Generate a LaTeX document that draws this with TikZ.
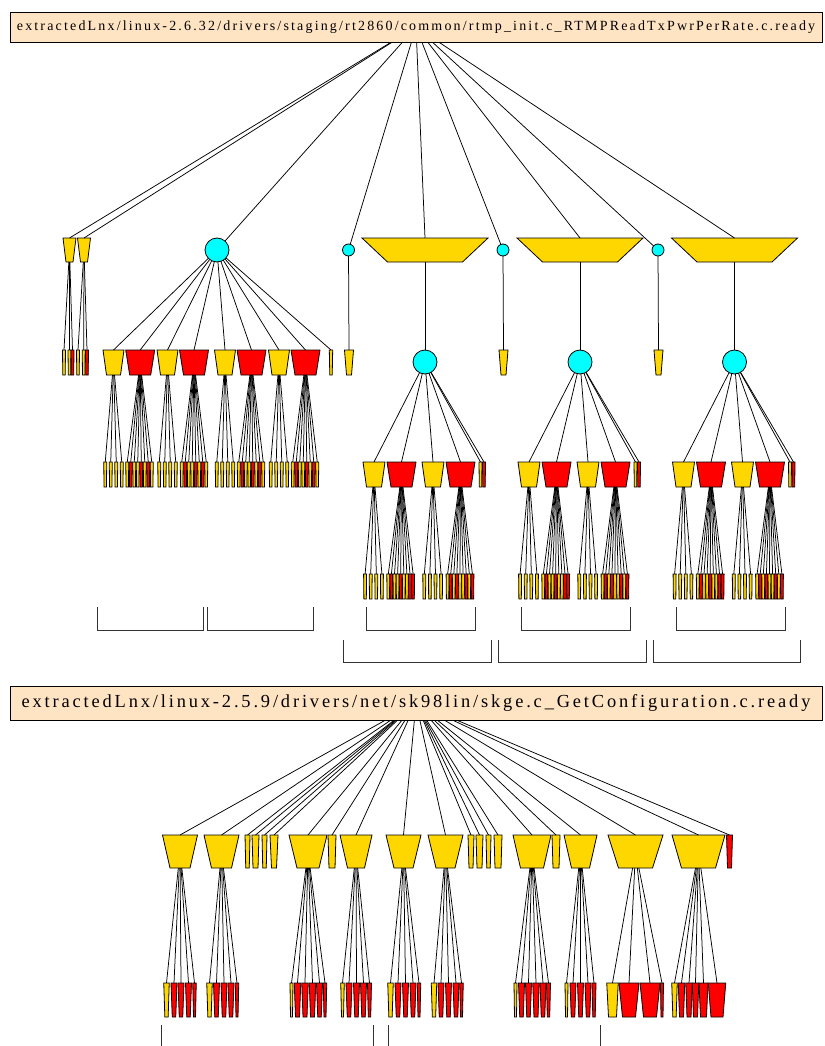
\documentclass[tikz,border=0pt]{standalone}
\usepackage{fontspec}
\setmainfont{Liberation Serif}
\newfontfamily\titlefont[LetterSpace=15.5]{Liberation Serif}
\definecolor{gold}{HTML}{FFD700}
\definecolor{hot}{HTML}{FF0000}
\definecolor{aqua}{HTML}{00FFFF}
\definecolor{peach}{HTML}{FFE4C4}
\tikzset{
  hit/.style={rectangle, draw=none, inner sep=0pt, outer sep=0pt},
  outline/.style={draw=black, line width=0.8pt, line join=miter},
  edge/.style={draw=black, line width=0.75pt},
  ball/.style={circle, draw=black, line width=0.8pt, fill=aqua, inner sep=0pt, outer sep=0pt},
  title/.style={rectangle, draw=black, line width=0.8pt, fill=peach, inner sep=0pt},
  bracket/.style={draw=black!80, line width=0.9pt},
}
% trapezoid: name, centre x, top y, top width, bottom width, height, fill
\newcommand\tzd[7]{%
  \node[hit, minimum width=#4, minimum height=#6] (#1) at (#2,{#3+#6/2}) {};
  \draw[outline, fill=#7] ({#2-#4/2},#3) -- ({#2+#4/2},#3) -- ({#2+#5/2},{#3+#6}) -- ({#2-#5/2},{#3+#6}) -- cycle;
}
% row of thin leaves under a parent: parent, centre x, count, step, top y, colours
\newcommand\fan[6]{%
  \foreach \col [count=\i] in {#6} {
    \pgfmathsetmacro\lx{#2+(\i-1-(#3-1)/2)*#4}
    \tzd{#1-\i}{\lx}{#5}{3}{2.4}{25}{\col}
    \draw[edge] (#1) -- (#1-\i.north);
  }
}
\begin{document}
\begin{tikzpicture}[x=1pt,y=-1pt]
\useasboundingbox (0,0) rectangle (824,1046);

% ---------------- first tree ----------------
\node[title, minimum width=812, minimum height=30] (root) at (416,27)
  {\titlefont\fontsize{14}{16}\selectfont extractedLnx/linux-2.6.32/drivers/staging/rt2860/common/rtmp\_init.c\_RTMPReadTxPwrPerRate.c.ready};

\tzd{a1}{69.5}{238}{13}{7}{24}{gold}
\tzd{a2}{84}{238}{13}{7}{24}{gold}
\node[ball, minimum size=24] (c1) at (217,250) {};
\node[ball, minimum size=12] (c2) at (348.5,250) {};
\tzd{t1}{425}{238}{126}{75}{24}{gold}
\node[ball, minimum size=12] (c3) at (503,250) {};
\tzd{t2}{580}{238}{126}{75}{24}{gold}
\node[ball, minimum size=12] (c4) at (658,250) {};
\tzd{t3}{734.5}{238}{126}{75}{24}{gold}
\foreach \n in {a1,a2,t1,t2,t3} \draw[edge] (root) -- (\n.north);
\foreach \n in {c1,c2,c3,c4} \draw[edge] (root) -- (\n);

% leaves of the two small trapezoids
\foreach \p/\k/\x/\col in {a1/1/64/gold, a1/2/69.5/gold, a1/3/72.5/hot,
                           a2/1/78/gold, a2/2/83.7/gold, a2/3/87/hot} {
  \tzd{\p-\k}{\x}{350}{3}{2.4}{25}{\col}
  \draw[edge] (\p) -- (\p-\k.north);
}

% children of the large circle
\foreach \n/\x/\wt/\wb/\col in {y1/113.5/21/14/gold, r1/140.2/29/21/hot, y2/167.5/21/14/gold,
    r2/194/29/21/hot, y3/225/21/14/gold, r3/251.5/29/21/hot, y4/279/21/14/gold,
    r4/305.5/29/21/hot, s0/331/3.4/2.4/gold} {
  \tzd{\n}{\x}{350}{\wt}{\wb}{25}{\col}
  \draw[edge] (c1) -- (\n.north);
}
\foreach \n/\x in {y1/113.5, y2/167.5, y3/225, y4/279} {
  \fan{\n}{\x}{4}{5.5}{462}{gold,gold,gold,gold}
}
\foreach \n/\x in {r1/139.5, r2/194, r3/251, r4/305} {
  \fan{\n}{\x}{8}{3.5}{462}{gold,hot,gold,gold,hot,gold,hot,gold}
}

% single leaves under the small circles
\tzd{s1}{349}{350}{9}{5}{25}{gold}
\tzd{s2}{503.5}{350}{9}{5}{25}{gold}
\tzd{s3}{658.5}{350}{9}{5}{25}{gold}
\draw[edge] (c2) -- (s1.north);
\draw[edge] (c3) -- (s2.north);
\draw[edge] (c4) -- (s3.north);

% the three identical sub-trees under the wide trapezoids
\foreach \g/\cx in {1/425, 2/580, 3/734.5} {
  \node[ball, minimum size=24] (b\g) at (\cx,362) {};
  \draw[edge] (t\g) -- (b\g);
  \tzd{b\g-y1}{\cx-51}{462}{22}{15}{25}{gold}
  \tzd{b\g-r1}{\cx-23.5}{462}{29}{21}{25}{hot}
  \tzd{b\g-y2}{\cx+8}{462}{22}{15}{25}{gold}
  \tzd{b\g-r2}{\cx+35.5}{462}{29}{21}{25}{hot}
  \tzd{b\g-t1}{\cx+55.5}{462}{3}{2.4}{25}{gold}
  \tzd{b\g-t2}{\cx+59}{462}{3}{2.4}{25}{hot}
  \foreach \n in {y1,r1,y2,r2,t1,t2} \draw[edge] (b\g) -- (b\g-\n.north);
  \fan{b\g-y1}{\cx-51.5}{4}{5.6}{574}{gold,gold,gold,gold}
  \fan{b\g-y2}{\cx+7.7}{4}{5.6}{574}{gold,gold,gold,gold}
  \fan{b\g-r1}{\cx-24.3}{9}{3.1}{574}{gold,hot,gold,gold,hot,gold,gold,hot,hot}
  \fan{b\g-r2}{\cx+35}{9}{3.1}{574}{gold,hot,gold,hot,gold,gold,hot,gold,hot}
}

% cluster brackets
\foreach \l/\r in {97/203, 207/313, 366/475, 521/630, 676/785}
  \draw[bracket] (\l,607) -- (\l,630) -- (\r,630) -- (\r,607);
\foreach \l/\r in {343/491, 498/646, 653/800}
  \draw[bracket] (\l,640) -- (\l,662) -- (\r,662) -- (\r,640);

% ---------------- second tree ----------------
\node[title, minimum width=812, minimum height=34] (root2) at (416,703)
  {\titlefont\fontsize{18.4}{20}\selectfont extractedLnx/linux-2.5.9/drivers/net/sk98lin/skge.c\_GetConfiguration.c.ready};

\foreach \n/\x/\wt/\wb/\col in {A/180/35/20/gold, B/221.5/35/20/gold,
    n1/247.5/5/3.5/gold, n2/255.5/7/5/gold, n3/264.5/5/3.5/gold, n4/274/8/5/gold,
    C/308/38/22/gold, n5/332/8/6/gold, D/356/32/17/gold, E/403.5/35/19/gold,
    F/445.5/35/19/gold, n6/471/6/4/gold, n7/479.5/7/5/gold, n8/488.5/5/3.5/gold,
    n9/498/8/6/gold, G/532/38/23/gold, n10/556/8/6/gold, H/580.5/33/18/gold,
    I/635.5/55/34/gold, J/698.5/53/34/gold, n11/729.5/6/4/hot} {
  \tzd{\n}{\x}{835}{\wt}{\wb}{33}{\col}
  \draw[edge] (root2) -- (\n.north);
}

\foreach \p/\k/\x/\wt/\wb/\col in {
  A/1/166.5/5.5/3.3/gold, A/2/174/6/3.5/hot, A/3/181/6/3.5/hot, A/4/188.5/6/3.5/hot, A/5/194.5/3.5/2/hot,
  B/1/209.5/5.5/3.3/gold, B/2/216.5/6/3.5/hot, B/3/224/6/3.5/hot, B/4/231/6/3.5/hot, B/5/237/3.5/2/hot,
  C/1/291.5/3/2/gold, C/2/297.5/6.5/4/hot, C/3/305/6.5/4/hot, C/4/312.5/6.5/4/hot, C/5/319.5/6/3.5/hot, C/6/325/3.5/2/hot,
  D/1/342.5/3.5/2/gold, D/2/349/6/3.5/hot, D/3/356.5/6/3.5/hot, D/4/363.5/6/3.5/hot, D/5/369.5/4/2.4/hot,
  E/1/390.5/5.5/3.3/gold, E/2/398/6/3.5/hot, E/3/405.5/6/3.5/hot, E/4/413/6/3.5/hot, E/5/419/3.5/2/hot,
  F/1/434/5.5/3.3/gold, F/2/441/6/3.5/hot, F/3/448.5/6/3.5/hot, F/4/456/6/3.5/hot, F/5/461.5/3.5/2/hot,
  G/1/515.5/3/2/gold, G/2/521.5/6/3.5/hot, G/3/528.5/6/3.5/hot, G/4/536/6.5/4/hot, G/5/543/6/3.5/hot, G/6/548.5/4/2.4/hot,
  H/1/566.5/3/2/gold, H/2/573/6/3.5/hot, H/3/580.5/6/3.5/hot, H/4/588/6/3.5/hot, H/5/594/4/2.4/hot,
  I/1/612.5/11.5/8/gold, I/2/629/20/13/hot, I/3/650/20/13/hot, I/4/662/3/2/hot,
  J/1/674.5/5.5/3.3/gold, J/2/681.5/6.5/4/hot, J/3/689/6.5/4/hot, J/4/695.5/6.5/4/hot, J/5/703.5/9/6/hot, J/6/717/17.5/12/hot} {
  \tzd{\p-\k}{\x}{983}{\wt}{\wb}{34}{\col}
  \draw[edge] (\p) -- (\p-\k.north);
}

% bracket edges reaching the lower border
\foreach \x in {161.5, 373, 388, 600}
  \draw[bracket] (\x,1025) -- (\x,1046);
\end{tikzpicture}
\end{document}
